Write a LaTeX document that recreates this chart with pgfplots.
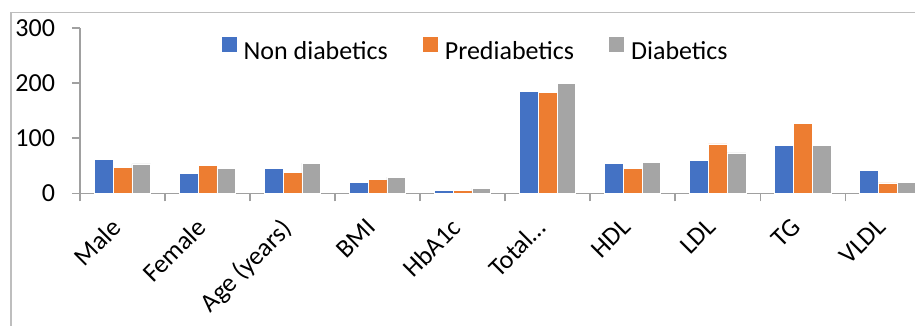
\documentclass[border=0pt]{standalone}
\usepackage{pgfplots}
\pgfplotsset{compat=1.18}
\usepackage{fontspec}
\setmainfont{Carlito}
\definecolor{cblue}{RGB}{68,114,196}
\definecolor{corange}{RGB}{237,125,49}
\definecolor{cgray}{RGB}{165,165,165}
\definecolor{axgray}{RGB}{160,160,160}
\definecolor{framegray}{RGB}{190,190,190}
\begin{document}
\begin{tikzpicture}
\path[use as bounding box] (-40pt,-66.35pt) rectangle (417.5pt,96.65pt);
\clip (-40pt,-66.35pt) rectangle (417.5pt,96.65pt);
\draw[framegray, line width=0.75pt] (-34.5pt,-80pt) -- (-34.5pt,90.5pt) -- (430pt,90.5pt);
\begin{axis}[
  at={(0pt,0pt)}, anchor=south west,
  scale only axis,
  width=417.5pt, height=82.65pt,
  ybar=0pt, bar width=0.22,
  xmin=-0.5, xmax=9.32,
  ymin=0, ymax=300,
  ytick={0,100,200,300},
  xtick={0,...,9},
  xticklabels={Male,Female,Age (years),BMI,HbA1c,Total\ldots,HDL,LDL,TG,VLDL},
  minor xtick={-0.5,0.5,...,8.5},
  axis x line*=bottom, axis y line*=left,
  axis line style={draw=axgray, line width=0.75pt},
  major x tick style={draw=none},
  minor x tick style={draw=axgray, line width=0.75pt},
  y tick style={draw=axgray, line width=0.75pt},
  tick align=outside,
  major tick length=4pt, minor tick length=4pt,
  /pgf/number format/assume math mode=true,
  tick label style={font=\fontsize{13}{15}\selectfont, text=black},
  yticklabel style={xshift=-5pt},
  xticklabel style={rotate=45, anchor=north east, xshift=-6.5pt, yshift=2.5pt},
  legend style={at={(0.475,0.855)}, anchor=center, draw=none, fill=none,
    legend columns=-1, font=\fontsize{13}{15}\selectfont,
    /tikz/every odd column/.append style={column sep=1.5pt},
    /tikz/every even column/.append style={column sep=15.5pt}},
  legend image code/.code={\fill[#1,draw=none] (0pt,0pt) rectangle (7.5pt,7.5pt);},
  clip=false,
]
\addplot[fill=cblue, draw=white, line width=0.3pt] coordinates {(0,62) (1,36.7) (2,45.8) (3,20.4) (4,5) (5,185) (6,54) (7,59.7) (8,87.3) (9,42)};
\addplot[fill=corange, draw=white, line width=0.3pt] coordinates {(0,47) (1,51) (2,38.5) (3,25.3) (4,5) (5,183) (6,45.8) (7,89.7) (8,126.6) (9,19)};
\addplot[fill=cgray, draw=white, line width=0.3pt] coordinates {(0,53.5) (1,45.8) (2,54.8) (3,29.5) (4,9) (5,199.5) (6,56) (7,73.4) (8,87.3) (9,20.4)};
\legend{Non diabetics,Prediabetics,Diabetics}
\end{axis}
\end{tikzpicture}
\end{document}
